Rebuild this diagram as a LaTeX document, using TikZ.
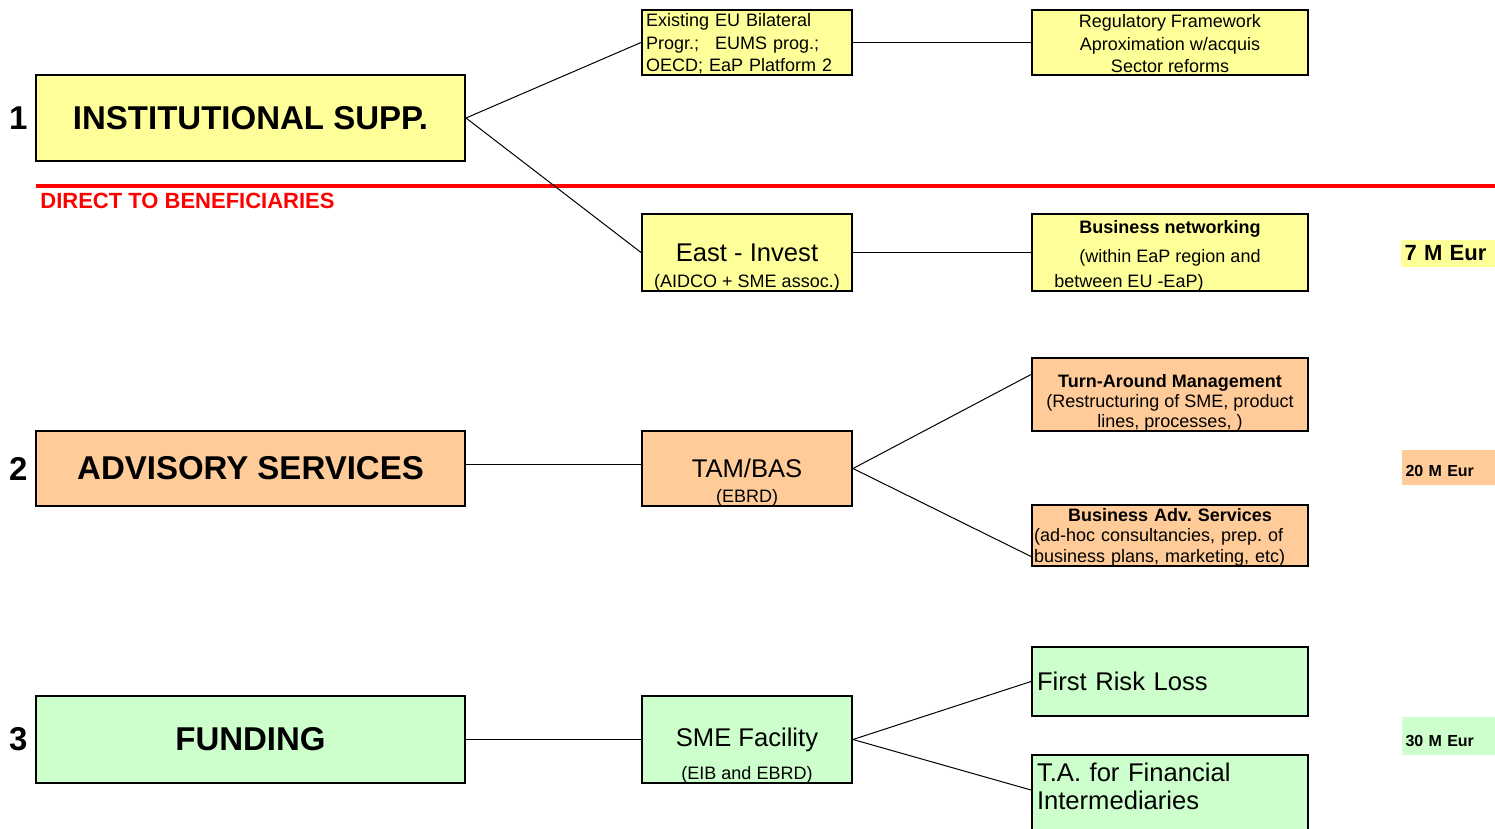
\documentclass[tikz,border=0pt]{standalone}
\usepackage{fontspec}
\setmainfont{Liberation Sans}
\frenchspacing
\definecolor{suppyellow}{HTML}{FFFF99}
\definecolor{advorange}{HTML}{FFCC99}
\definecolor{fundgreen}{HTML}{CCFFCC}
\newcommand{\fsz}[2]{\fontsize{#1}{#2}\selectfont}
\begin{document}
\begin{tikzpicture}[x=0.5pt,y=-0.5pt,every node/.style={inner sep=2pt},
  mainbox/.style={draw,line width=1pt,minimum width=214.5pt,font=\fsz{16.5}{19}\bfseries},
  midbox/.style={draw,line width=1pt,minimum width=105pt,font=\fsz{12.8}{15}},
  endbox/.style={draw,line width=1pt,minimum width=138pt,font=\fsz{9}{10}},
  sub/.style={anchor=south,font=\fsz{9}{10},inner sep=1.5pt,yshift=-1.5pt},
  num/.style={font=\fsz{16.5}{19}\bfseries,inner sep=3.5pt},
  amount/.style={minimum width=47pt,text width=43pt,align=left,font=\fsz{8}{9.6}\bfseries},
  link/.style={line width=0.5pt}]
\useasboundingbox (0,0) rectangle (1495,829);
\node (inst) [mainbox,fill=suppyellow,minimum height=43pt,label={[num]west:1}] at (250.5,118) {INSTITUTIONAL SUPP.};
\node (exist) [midbox,fill=suppyellow,minimum height=32.5pt,font=\fsz{9}{11.25},text width=101pt,align=left,inner ysep=0pt] at (747,42.5) {\rule{0pt}{8pt}Existing EU Bilateral\\Progr.;\hspace{8pt}EUMS prog.;\\OECD; EaP Platform 2};
\node (reg) [endbox,fill=suppyellow,minimum height=32.5pt,font=\fsz{9}{11.25},align=center,inner ysep=0pt] at (1170,42.5) {\rule{0pt}{8pt}Regulatory Framework\\Aproximation w/acquis\\Sector reforms};
\node (invest) [midbox,fill=suppyellow,minimum height=38.5pt,label={[sub]south:(AIDCO + SME assoc.)}] at (747,252.5) {East - Invest};
\node (netw) [endbox,fill=suppyellow,minimum height=38.5pt,font=\fsz{9}{12.5},align=center,inner ysep=0pt] at (1170,252.5) {\rule{0pt}{9.5pt}\textbf{Business networking}\\[2pt](within EaP region and\hspace*{5pt}\\between EU -EaP)\hspace*{41pt}};
\node (amt1) [amount,fill=suppyellow,minimum height=13.5pt,font=\fsz{11}{13}\bfseries] at (1447.5,253.5) {7 M Eur};

\coordinate (rule l) at (36,186);
\coordinate (rule r) at (1495,186);
\draw [red,line width=2pt] (rule l) -- (rule r);
\node (direct) [anchor=west,text=red,font=\fsz{11}{13}\bfseries,inner sep=0pt] at (40,201) {DIRECT TO BENEFICIARIES};

\node (adv) [mainbox,fill=advorange,minimum height=37.5pt,label={[num]west:2}] at (250.5,468.5) {ADVISORY SERVICES};
\node (tam) [midbox,fill=advorange,minimum height=37.5pt,label={[sub]south:(EBRD)}] at (747,468.5) {TAM/BAS};
\node (turn) [endbox,fill=advorange,minimum height=36.5pt,align=center,inner ysep=0pt] at (1170,394.5) {\rule{0pt}{14.5pt}\textbf{Turn-Around Management}\\(Restructuring of SME, product\\lines, processes, )};
\node (bas) [endbox,fill=advorange,minimum height=30.5pt,font=\fsz{9}{10.25},text width=136pt,align=left,inner xsep=1pt,inner ysep=0pt] at (1170,535.5) {\makebox[136pt]{\rule{0pt}{8pt}\textbf{Business Adv. Services}}\\(ad-hoc consultancies, prep. of\\business plans, marketing, etc)};
\node (amt2) [amount,fill=advorange,minimum height=17.5pt,text height=9pt] at (1448.5,467.5) {20 M Eur};

\node (fund) [mainbox,fill=fundgreen,minimum height=43.5pt,label={[num]west:3}] at (250.5,739.5) {FUNDING};
\node (sme) [midbox,fill=fundgreen,minimum height=43.5pt,label={[sub]south:(EIB and EBRD)}] at (747,739.5) {SME Facility};
\node (frl) [endbox,fill=fundgreen,minimum height=34.5pt,font=\fsz{12.8}{14},text width=133pt,align=left] at (1170,681.5) {First Risk Loss};
\node (tafi) [endbox,fill=fundgreen,minimum height=45pt,font=\fsz{12.8}{14},text width=133pt,align=left] at (1170,800) {T.A. for Financial\\Intermediaries\\\mbox{}};
\node (amt3) [amount,fill=fundgreen,minimum height=19pt,text height=10.8pt] at (1448.5,736) {30 M Eur};

\draw [link] (inst.east) -- (exist.west);
\draw [link] (inst.east) -- (invest.west);
\draw [link] (exist.east) -- (reg.west);
\draw [link] (invest.east) -- (netw.west);
\draw [link] ([yshift=2pt]adv.east) -- ([yshift=2pt]tam.west);
\draw [link] (tam.east) -- ([yshift=10pt]turn.west);
\draw [link] (tam.east) -- ([yshift=-10.5pt]bas.west);
\draw [link] (fund.east) -- (sme.west);
\draw [link] (sme.east) -- (frl.west);
\draw [link] (sme.east) -- ([yshift=5pt]tafi.west);
\end{tikzpicture}
\end{document}
